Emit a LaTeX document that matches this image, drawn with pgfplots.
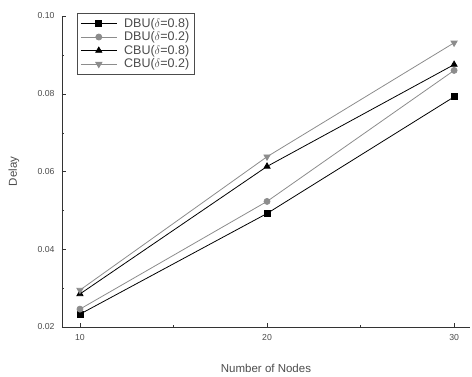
\documentclass[border=0pt]{standalone}
\usepackage{pgfplots}
\pgfplotsset{compat=1.18}
\usepackage{fontspec}
\setmainfont{Liberation Sans}
\definecolor{txt}{gray}{0.3}
\definecolor{lg}{gray}{0.55}
\begin{document}
\begin{tikzpicture}
\begin{axis}[
  name=ax,
  scale only axis,
  width=408pt, height=311pt,
  xmin=9.04, xmax=30.85,
  ymin=0.02, ymax=0.10,
  axis x line*=bottom, axis y line*=left,
  axis line style={black!80, line width=0.8pt},
  xtick={10,20,30}, ytick={0.02,0.04,0.06,0.08,0.10},
  minor x tick num=1, minor y tick num=1,
  tick align=inside,
  major tick length=4pt, minor tick length=2pt,
  tick style={black!80},
  /pgf/number format/assume math mode=true,
  yticklabel style={/pgf/number format/fixed, /pgf/number format/precision=2, /pgf/number format/fixed zerofill, xshift=-4pt},
  xticklabel style={yshift=-4pt},
  ticklabel style={font=\fontsize{8.7}{10}\selectfont, text=txt},
  xlabel={Number of Nodes}, ylabel={Delay},
  label style={font=\fontsize{11.5}{13}\selectfont, text=txt},
  xlabel style={at={(axis description cs:0.5,0)}, anchor=center, yshift=-41pt},
  ylabel style={at={(axis description cs:0,0.5)}, anchor=center, rotate=0, yshift=48pt},
  legend style={at={(axis description cs:0.037,1.01)}, anchor=north west, font=\fontsize{12.5}{14}\selectfont, text=txt, draw=black!70, line width=0.6pt, row sep=-1pt, inner sep=3pt,
    /tikz/every odd column/.append style={column sep=5pt}},
  legend cell align=left,
  legend image code/.code={\draw[mark repeat=2,mark phase=2] plot coordinates {(0pt,0pt) (18pt,0pt) (36pt,0pt)};},
]
\addplot[black, line width=0.8pt, mark=square*, mark size=3pt, mark options={solid, fill=black}] coordinates {(10,0.0233) (20,0.0492) (30,0.0792)};
\addlegendentry{DBU(\ensuremath{\delta}=0.8)}
\addplot[lg, line width=0.8pt, mark=*, mark size=3pt, mark options={solid, fill=lg}] coordinates {(10,0.0246) (20,0.0523) (30,0.0860)};
\addlegendentry{DBU(\ensuremath{\delta}=0.2)}
\addplot[black, line width=0.8pt, mark=triangle*, mark size=3.5pt, mark options={solid, fill=black}] coordinates {(10,0.0285) (20,0.0613) (30,0.0875)};
\addlegendentry{CBU(\ensuremath{\delta}=0.8)}
\addplot[lg, line width=0.8pt, mark=triangle*, mark size=3.5pt, mark options={solid, fill=lg, rotate=180}] coordinates {(10,0.0295) (20,0.0638) (30,0.0931)};
\addlegendentry{CBU(\ensuremath{\delta}=0.2)}
\end{axis}
\pgfresetboundingbox
\path ([shift={(-62pt,-50pt)}]ax.south west) rectangle ([shift={(2pt,16pt)}]ax.north east);
\end{tikzpicture}
\end{document}
